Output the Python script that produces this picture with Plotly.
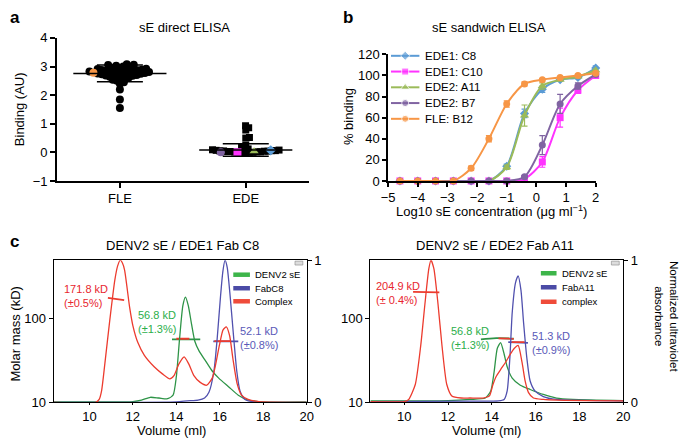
import math
import plotly.graph_objects as go

W, H = 685, 447
FONT = "Liberation Sans, Arial, Helvetica, sans-serif"

# ---------------- Panel a: sE direct ELISA ----------------
categories = ["FLE", "EDE"]
fle_values = [3.08, 3.06, 3.05, 3.03, 3.0, 2.98, 2.96, 2.94, 2.92, 2.91, 2.9, 2.89,
              2.88, 2.87, 2.86, 2.85, 2.84, 2.83, 2.82, 2.81, 2.8, 2.8, 2.79, 2.77,
              2.76, 2.75, 2.74, 2.73, 2.72, 2.71, 2.7, 2.69, 2.68, 2.66, 2.64, 2.62,
              2.6, 2.57, 2.54, 2.5, 2.45, 2.4, 2.2, 1.85, 1.55]
fle_b12_value = 2.78
ede_values = [0.93, 0.86, 0.78, 0.52, 0.5, 0.25, 0.18, 0.12, 0.1, 0.09, 0.08, 0.07,
              0.06, 0.06, 0.05, 0.05, 0.04, 0.04, 0.03, 0.03, 0.02, 0.02, 0.01, 0.01,
              0.0, 0.0, -0.01, -0.02]
ede_named = ["EDE2: B7", "EDE1: C10", "EDE2: A11", "EDE1: C8"]
ede_named_values = [0.0, 0.0, 0.04, 0.07]
group_means = [2.76, 0.08]
group_sds = [0.29, 0.22]

# ---------------- Panel b: sE sandwich ELISA ----------------
log_conc = [-4.6, -4.0, -3.4, -2.8, -2.2, -1.6, -1.0, -0.4, 0.2, 0.8, 1.4, 2.0]
series_names = ["EDE1: C8", "EDE1: C10", "EDE2: A11", "EDE2: B7", "FLE: B12"]
binding_c8 = [0, 0, 0, 0, 0, 0, 14, 64, 87, 96, 98, 107]
binding_c10 = [0, 0, 0, 0, 0, 0, 0, 2, 18, 60, 86, 100]
binding_a11 = [0, 0, 0, 0, 0, 0, 13, 62, 90, 96, 99, 105]
binding_b7 = [0, 0, 0, 0, 0, 0, 0, 4, 34, 73, 90, 101]
binding_b12 = [0, 0, 0, 0, 12, 40, 73, 92, 96, 98, 100, 102]
err_c8 = [0, 0, 0, 0, 0, 0, 2, 4, 3, 1, 1, 2]
err_c10 = [0, 0, 0, 0, 0, 0, 0, 1, 5, 9, 3, 2]
err_a11 = [0, 0, 0, 0, 0, 0, 2, 10, 3, 1, 1, 1]
err_b7 = [0, 0, 0, 0, 0, 0, 0, 1, 9, 9, 3, 1]
err_b12 = [0, 0, 0, 0, 2, 3, 3, 2, 1, 1, 1, 1]

# ---------------- Panel c: SEC-MALS ----------------
# left: DENV2 sE / EDE1 Fab C8 (normalized UV absorbance)
c8_sE_vol = [8.35, 10.0, 12.0, 12.4, 12.8, 13.2, 13.6, 13.85, 14.0, 14.15, 14.3, 14.42,
             14.55, 14.7, 14.85, 15.05, 15.35, 15.65, 15.95, 16.4, 16.85, 17.3, 18.0, 20.0]
c8_sE_abs = [0.003, 0.003, 0.005, 0.015, 0.035, 0.03, 0.025, 0.05, 0.18, 0.45, 0.68, 0.74,
             0.68, 0.55, 0.43, 0.36, 0.29, 0.22, 0.17, 0.11, 0.05, 0.016, 0.003, 0.002]
c8_fab_vol = [8.35, 14.0, 14.5, 15.0, 15.3, 15.5, 15.73, 15.88, 16.03, 16.14, 16.24, 16.34,
              16.48, 16.63, 16.78, 16.93, 17.16, 17.6, 20.0]
c8_fab_abs = [0.0, 0.003, 0.01, 0.015, 0.03, 0.07, 0.22, 0.45, 0.74, 0.92, 1.0, 0.95,
              0.74, 0.47, 0.22, 0.08, 0.02, 0.003, 0.0]
c8_cx_vol = [8.35, 10.3, 10.45, 10.56, 10.71, 10.94, 11.17, 11.3, 11.42, 11.52, 11.62, 11.85,
             12.0, 12.23, 12.53, 12.98, 13.36, 13.7, 13.9, 14.12, 14.36, 14.57, 14.8, 15.1,
             15.4, 15.65, 15.8, 15.98, 16.15, 16.3, 16.45, 16.6, 16.8, 17.0, 17.3, 17.8, 20.0]
c8_cx_abs = [0.0, 0.0, 0.02, 0.08, 0.27, 0.58, 0.86, 0.96, 1.0, 0.98, 0.93, 0.67,
             0.54, 0.42, 0.33, 0.25, 0.2, 0.165, 0.19, 0.27, 0.32, 0.27, 0.19, 0.14,
             0.12, 0.17, 0.26, 0.4, 0.51, 0.53, 0.47, 0.31, 0.13, 0.05, 0.02, 0.005, 0.0]
# molar mass segments (kD)
c8_mass_cx1_vol, c8_mass_cx1 = [10.85, 11.6], [175, 164]
c8_mass_sE_vol, c8_mass_sE = [13.8, 15.1], [56, 56]
c8_mass_cx2_vol, c8_mass_cx2 = [14.0, 14.6], [57, 57]
c8_mass_fab_vol, c8_mass_fab = [15.7, 16.85], [53, 53]
c8_mass_cx3_vol, c8_mass_cx3 = [15.75, 16.5], [53.5, 53.5]

# right: DENV2 sE / EDE2 Fab A11
a11_sE_vol = [8.45, 12.0, 13.0, 13.7, 13.95, 14.1, 14.25, 14.4, 14.56, 14.7, 14.93, 15.3,
              15.75, 16.35, 16.95, 17.7, 20.0]
a11_sE_abs = [0.01, 0.012, 0.02, 0.03, 0.08, 0.21, 0.38, 0.42, 0.34, 0.25, 0.17, 0.12,
              0.09, 0.055, 0.03, 0.02, 0.012]
a11_fab_vol = [8.45, 13.0, 14.3, 14.56, 14.7, 14.83, 14.93, 15.08, 15.2, 15.33, 15.45, 15.6,
               15.75, 15.97, 16.35, 16.95, 20.0]
a11_fab_abs = [0.005, 0.008, 0.01, 0.02, 0.08, 0.33, 0.63, 0.84, 0.89, 0.79, 0.56, 0.31,
               0.15, 0.08, 0.04, 0.02, 0.01]
a11_cx_vol = [8.45, 10.0, 10.2, 10.5, 10.75, 10.94, 11.12, 11.22, 11.35, 11.54, 11.72, 11.94,
              12.17, 12.6, 13.0, 13.6, 13.89, 14.04, 14.19, 14.4, 14.62, 14.85, 15.03, 15.2,
              15.38, 15.52, 15.67, 15.9, 16.35, 17.0, 20.0]
a11_cx_abs = [0.005, 0.005, 0.02, 0.125, 0.4, 0.69, 0.94, 1.0, 0.94, 0.69, 0.4, 0.125,
              0.045, 0.03, 0.03, 0.03, 0.045, 0.12, 0.18, 0.23, 0.28, 0.34, 0.38, 0.40,
              0.28, 0.15, 0.07, 0.03, 0.02, 0.015, 0.01]
a11_mass_cx1_vol, a11_mass_cx1 = [10.4, 11.6], [206, 203]
a11_mass_sE_vol, a11_mass_sE = [13.5, 14.2, 15.0], [56, 58, 57]
a11_mass_cx2_vol, a11_mass_cx2 = [14.3, 15.0], [57.5, 57]
a11_mass_fab_vol, a11_mass_fab = [14.75, 15.65], [52, 51]
a11_mass_cx3_vol, a11_mass_cx3 = [14.9, 15.5], [52, 52]

# ---------------- colours ----------------
COL = {"EDE1: C8": "#5B9BD5", "EDE1: C10": "#FF33FF", "EDE2: A11": "#9BBB59",
       "EDE2: B7": "#8064A2", "FLE: B12": "#F79646"}
SYM = {"EDE1: C8": "diamond", "EDE1: C10": "square", "EDE2: A11": "triangle-up",
       "EDE2: B7": "circle", "FLE: B12": "circle"}
RED, GREEN, BLUE = "#EC3B2E", "#2E9447", "#5050AE"
RED_T, GREEN_T, BLUE_T = "#E8262E", "#2BAE4A", "#5A5AB8"


def px_x(p):
    return p / W


def px_y(p):
    return 1 - p / H


def swarm(values, y_scale, x_scale, diam):
    """Beeswarm layout: returns x offsets (axis units) for each value."""
    order = sorted(range(len(values)), key=lambda i: values[i])
    placed, offs = [], [0.0] * len(values)
    for n, i in enumerate(order):
        y = values[i] * y_scale
        blocked = []
        for yj, xj in placed:
            dy = abs(y - yj)
            if dy < diam:
                dx = math.sqrt(diam * diam - dy * dy)
                blocked.append((xj - dx, xj + dx))
        cands = [0.0] + [a for a, b in blocked] + [b for a, b in blocked]
        sgn = 1 if n % 2 else -1
        cands.sort(key=lambda c: (round(abs(c), 6), sgn * c))
        for c in cands:
            if all(not (a + 1e-6 < c < b - 1e-6) for a, b in blocked):
                offs[i] = c
                break
        placed.append((y, offs[i]))
    return [o / x_scale for o in offs]


fig = go.Figure()

# ---------- panel a ----------
A_XS = (308 - 51) / 2.0   # px per category unit
A_YS = (180 - 32) / 5.0   # px per AU
fle_all = fle_values + [fle_b12_value]
fle_off = swarm(fle_all, A_YS, A_XS, 4.3)
ede_off = swarm(ede_values, A_YS, A_XS, 3.8)
nf = len(fle_values)
# highlighted EDE antibodies spread evenly across the swarm band at their level
band = [o for o, v in zip(ede_off, ede_values) if abs(v - 0.03) < 0.1]
b_lo, b_hi = min(band), max(band)
nh = len(ede_named)
ede_named_off = [b_lo + (k + 0.5) / nh * (b_hi - b_lo) for k in range(nh)]

fig.add_trace(go.Scatter(x=[0 + o for o in fle_off[:nf]], y=fle_values, mode="markers",
                         marker=dict(color="black", size=8, symbol="circle"),
                         xaxis="x", yaxis="y", cliponaxis=False, showlegend=False))
fig.add_trace(go.Scatter(x=[1 + o for o in ede_off], y=ede_values, mode="markers",
                         marker=dict(color="black", size=7, symbol="square"),
                         xaxis="x", yaxis="y", cliponaxis=False, showlegend=False))
fig.add_trace(go.Scatter(x=[0 + fle_off[nf]], y=[fle_b12_value], mode="markers",
                         marker=dict(color=COL["FLE: B12"], size=8, symbol="circle"),
                         xaxis="x", yaxis="y", cliponaxis=False, showlegend=False))
for k, nm in enumerate(ede_named):
    fig.add_trace(go.Scatter(x=[1 + ede_named_off[k]], y=[ede_named_values[k]], mode="markers",
                             marker=dict(color=COL[nm], size=8, symbol=SYM[nm]),
                             xaxis="x", yaxis="y", cliponaxis=False, showlegend=False))
# mean lines and SD error bars
for gi in range(2):
    fig.add_trace(go.Scatter(x=[gi - 0.37, gi + 0.37], y=[group_means[gi]] * 2, mode="lines",
                             line=dict(color="black", width=1.5),
                             xaxis="x", yaxis="y", showlegend=False))
fig.add_trace(go.Scatter(x=[0, 1], y=group_means, mode="markers",
                         marker=dict(size=1, color="rgba(0,0,0,0)"),
                         error_y=dict(type="data", array=group_sds, width=23, thickness=1.5,
                                      color="black"),
                         xaxis="x", yaxis="y", showlegend=False))

# ---------- panel b ----------
b_data = [binding_c8, binding_c10, binding_a11, binding_b7, binding_b12]
b_err = [err_c8, err_c10, err_a11, err_b7, err_b12]
for nm, vals, errs in zip(series_names, b_data, b_err):
    fig.add_trace(go.Scatter(x=log_conc, y=vals, mode="lines+markers",
                             line=dict(color=COL[nm], width=2, shape="spline", smoothing=0.8),
                             marker=dict(color=COL[nm], size=8 if SYM[nm] == "triangle-up" else 7,
                                         symbol=SYM[nm]),
                             error_y=dict(type="data", array=errs, width=3, thickness=1.2,
                                          color=COL[nm]),
                             xaxis="x2", yaxis="y2", cliponaxis=False, showlegend=False))

# ---------- panel c ----------
def chrom(xv, yv, color, xa, ya):
    fig.add_trace(go.Scatter(x=xv, y=yv, mode="lines",
                             line=dict(color=color, width=1.3, shape="spline", smoothing=0.6),
                             xaxis=xa, yaxis=ya, showlegend=False))


def mass(xv, yv, color, xa, ya):
    fig.add_trace(go.Scatter(x=xv, y=yv, mode="lines",
                             line=dict(color=color, width=1.8, shape="spline"),
                             xaxis=xa, yaxis=ya, showlegend=False))


chrom(c8_sE_vol, c8_sE_abs, GREEN, "x3", "y4")
chrom(c8_fab_vol, c8_fab_abs, BLUE, "x3", "y4")
chrom(c8_cx_vol, c8_cx_abs, RED, "x3", "y4")
mass(c8_mass_sE_vol, c8_mass_sE, GREEN, "x3", "y3")
mass(c8_mass_fab_vol, c8_mass_fab, BLUE, "x3", "y3")
mass(c8_mass_cx1_vol, c8_mass_cx1, RED, "x3", "y3")
mass(c8_mass_cx2_vol, c8_mass_cx2, RED, "x3", "y3")
mass(c8_mass_cx3_vol, c8_mass_cx3, RED, "x3", "y3")

chrom(a11_sE_vol, a11_sE_abs, GREEN, "x4", "y6")
chrom(a11_fab_vol, a11_fab_abs, BLUE, "x4", "y6")
chrom(a11_cx_vol, a11_cx_abs, RED, "x4", "y6")
mass(a11_mass_sE_vol, a11_mass_sE, GREEN, "x4", "y5")
mass(a11_mass_fab_vol, a11_mass_fab, BLUE, "x4", "y5")
mass(a11_mass_cx1_vol, a11_mass_cx1, RED, "x4", "y5")
mass(a11_mass_cx2_vol, a11_mass_cx2, RED, "x4", "y5")
mass(a11_mass_cx3_vol, a11_mass_cx3, RED, "x4", "y5")

# ---------- legends (drawn on a pixel overlay axis) ----------
b_rows = [50.5, 66.8, 83.1, 99.4, 115.7]
for nm, ry in zip(series_names, b_rows):
    fig.add_trace(go.Scatter(x=[392, 406.5, 421], y=[ry] * 3, mode="lines+markers",
                             line=dict(color=COL[nm], width=2),
                             marker=dict(color=COL[nm], symbol=SYM[nm],
                                         size=[0, 8 if SYM[nm] == "triangle-up" else 7, 0]),
                             xaxis="x5", yaxis="y7", showlegend=False))

c_left_legend = ["DENV2 sE", "FabC8", "Complex"]
c_right_legend = ["DENV2 sE", "FabA11", "complex"]
leg_cols = ["#3DB54A", "#4B4BA6", "#EF4B3A"]
c_left_rows = [277, 291, 304.5]
c_right_rows = [275.5, 290, 305]
for col, ry in zip(leg_cols, c_left_rows):
    fig.add_trace(go.Scatter(x=[231, 248], y=[ry, ry], mode="lines", line=dict(color=col, width=4.5),
                             xaxis="x5", yaxis="y7", showlegend=False))
for col, ry in zip(leg_cols, c_right_rows):
    fig.add_trace(go.Scatter(x=[545, 561], y=[ry, ry], mode="lines", line=dict(color=col, width=4.5),
                             xaxis="x5", yaxis="y7", showlegend=False))

# ---------- axes ----------
tickfont = dict(family=FONT, size=13, color="black")
common = dict(showgrid=False, zeroline=False, showline=True, linecolor="black",
              ticks="outside", tickcolor="black", tickfont=tickfont)

layout = dict(
    width=W, height=H, margin=dict(l=0, r=0, t=0, b=0),
    paper_bgcolor="white", plot_bgcolor="rgba(0,0,0,0)",
    font=dict(family=FONT, color="black"), showlegend=False,
    xaxis=dict(domain=[px_x(51), px_x(308)], range=[-0.5, 1.5], tickvals=[0, 1],
               ticktext=categories, anchor="y", linewidth=1.5, ticklen=5, tickwidth=1.5, **common),
    yaxis=dict(domain=[px_y(180), px_y(32)], range=[-1, 4], tickvals=[-1, 0, 1, 2, 3, 4],
               anchor="x", linewidth=1.5, ticklen=5, tickwidth=1.5, **common),
    xaxis2=dict(domain=[px_x(389), px_x(601)], range=[-5, 2], tickvals=list(range(-5, 3)),
                anchor="y2", linewidth=1.5, ticklen=4, tickwidth=1.5, **common),
    yaxis2=dict(domain=[px_y(180), px_y(49)], range=[0, 120], tickvals=list(range(0, 121, 20)),
                anchor="x2", linewidth=1.5, ticklen=4, tickwidth=1.5, **common),
    xaxis3=dict(domain=[px_x(47.5), px_x(306)], range=[8.35, 20], tickvals=list(range(10, 21, 2)),
                anchor="y3", mirror=True, linewidth=1, ticklen=2, tickwidth=1, **common),
    yaxis3=dict(domain=[px_y(409), px_y(262)], type="log", range=[1, 2.69], tickvals=[10, 100],
                ticktext=["10", "100"], anchor="x3", mirror=True, linewidth=1, ticklen=4,
                tickwidth=1, **common),
    yaxis4=dict(overlaying="y3", side="right", range=[0, 1], tickvals=[0, 1], anchor="x3",
                showgrid=False, zeroline=False, showline=False, ticks="outside", ticklen=4,
                tickwidth=1, tickcolor="black", tickfont=tickfont),
    xaxis4=dict(domain=[px_x(371), px_x(629)], range=[8.45, 20], tickvals=list(range(10, 21, 2)),
                anchor="y5", mirror=True, linewidth=1, ticklen=2, tickwidth=1, **common),
    yaxis5=dict(domain=[px_y(409), px_y(262)], type="log", range=[1, 2.69], tickvals=[10, 100],
                ticktext=["10", "100"], anchor="x4", mirror=True, linewidth=1, ticklen=4,
                tickwidth=1, **common),
    yaxis6=dict(overlaying="y5", side="right", range=[0, 1], tickvals=[0, 1], anchor="x4",
                showgrid=False, zeroline=False, showline=False, ticks="outside", ticklen=4,
                tickwidth=1, tickcolor="black", tickfont=tickfont),
    xaxis5=dict(domain=[0, 1], range=[0, W], visible=False, anchor="y7", fixedrange=True),
    yaxis7=dict(domain=[0, 1], range=[H, 0], visible=False, anchor="x5", fixedrange=True),
)
fig.update_layout(**layout)

# ---------- text ----------
def txt(x, y, s, size=13, color="black", xanchor="center", yanchor="middle", angle=0,
        bold=False, align="center"):
    if bold:
        s = "<b>" + s + "</b>"
    fig.add_annotation(x=x, y=y, xref="x5", yref="y7", text=s, showarrow=False,
                       font=dict(family=FONT, size=size, color=color), xanchor=xanchor,
                       yanchor=yanchor, textangle=angle, align=align, borderpad=0)


txt(2, 11, "a", size=17, xanchor="left", bold=True)
txt(342, 11, "b", size=17, xanchor="left", bold=True)
txt(2, 243, "c", size=17, xanchor="left", bold=True)
txt(181, 21, "sE direct ELISA")
txt(492, 21, "sE sandwich ELISA")
txt(13, 106, "Binding (AU)", angle=-90)
txt(348, 113, "% binding", angle=-90)
txt(495, 211, "Log10 sE concentration (μg ml<sup>−1</sup>)")
txt(179, 247, "DENV2 sE / EDE1 Fab C8")
txt(498, 247, "DENV2 sE / EDE2 Fab A11")
txt(9, 338, "Molar mass (kD)", angle=-90)
txt(168, 438.5, "Volume (ml)")
txt(490, 438.5, "Volume (ml)")
txt(673, 320, "Normalized ultraviolet<br>absorbance", size=11.5, angle=90)

# panel b legend text
for nm, ry in zip(series_names, b_rows):
    txt(426, ry, nm, size=11.5, xanchor="left")
# panel c legend text
for s, ry in zip(c_left_legend, c_left_rows):
    txt(252, ry, s, size=9.5, xanchor="left")
for s, ry in zip(c_right_legend, c_right_rows):
    txt(566, ry, s, size=9.5, xanchor="left")

# panel c mass labels
txt(57, 299, "171.8 kD<br>(±0.5%)", size=11, color=RED_T, xanchor="left", align="left")
txt(133, 326, "56.8 kD<br>(±1.3%)", size=11, color=GREEN_T, xanchor="left", align="left")
txt(237, 343, "52.1 kD<br>(±0.8%)", size=11, color=BLUE_T, xanchor="left", align="left")
txt(376, 295.5, "204.9 kD<br>(± 0.4%)", size=11, color=RED_T, xanchor="left", align="left")
txt(452, 343, "56.8 kD<br>(±1.3%)", size=11, color=GREEN_T, xanchor="left", align="left")
txt(535, 348, "51.3 kD<br>(±0.9%)", size=11, color=BLUE_T, xanchor="left", align="left")

# small instrument icons in the corners of the chromatogram boxes
for x0 in (294, 617):
    fig.add_shape(type="rect", xref="x5", yref="y7", x0=x0, x1=x0 + 8, y0=263, y1=267,
                  line=dict(color="#888", width=0.6), fillcolor="#ddd")

fig.write_html("out.html", config={"displayModeBar": False},
               post_script="document.body.style.margin='0';")
